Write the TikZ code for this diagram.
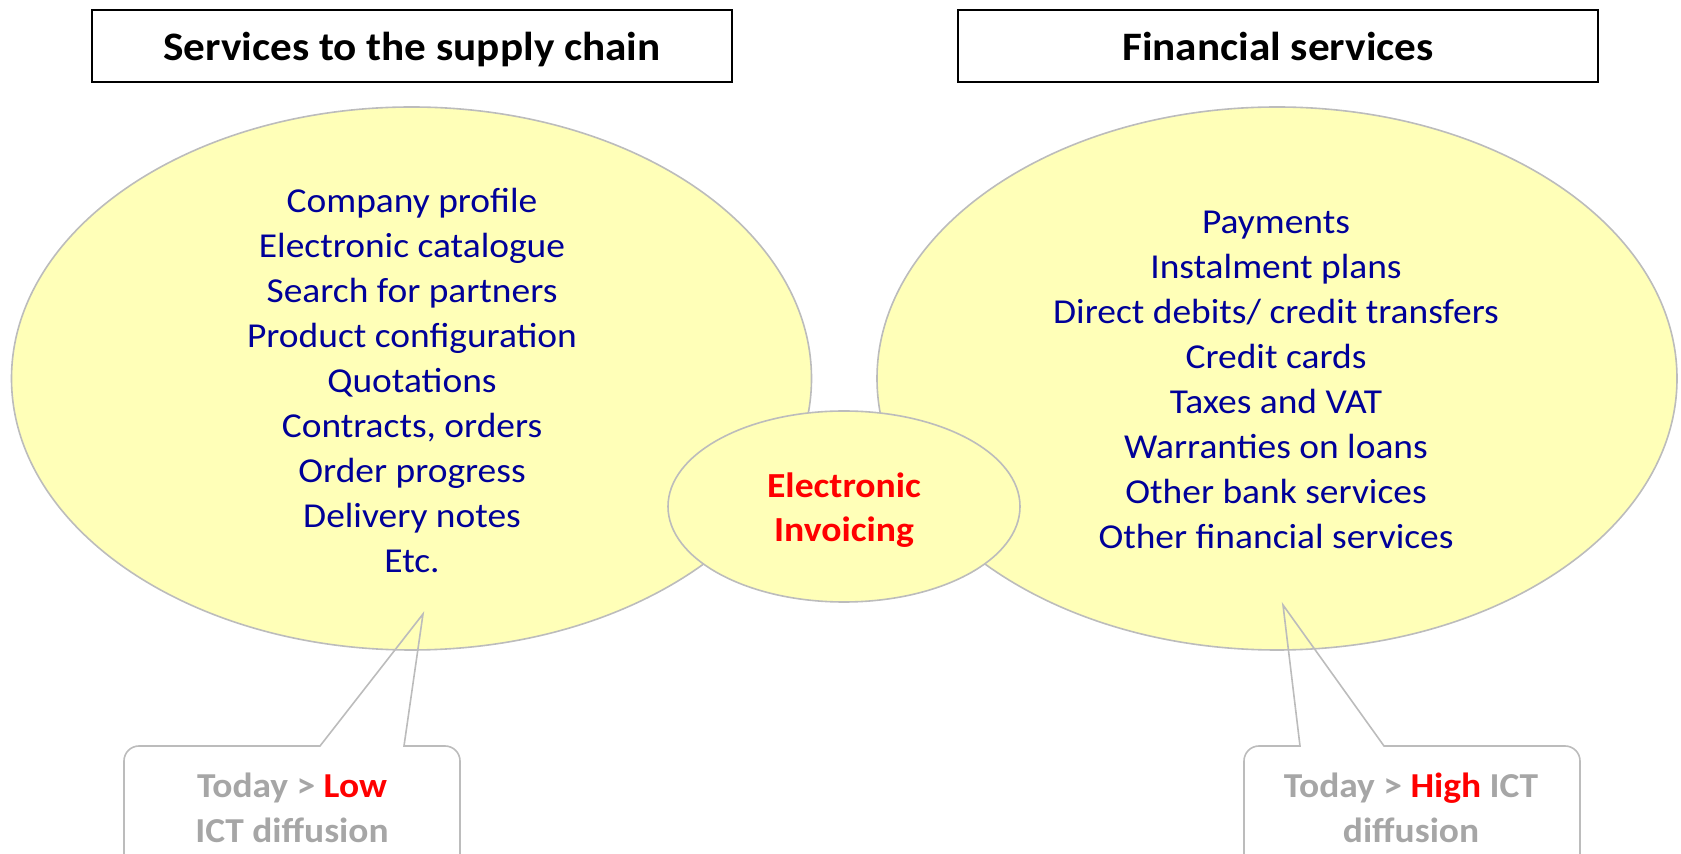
\documentclass[tikz,border=0pt]{standalone}
\usepackage{fontspec}
\setmainfont{Carlito}
\newfontfamily\bodyfont[FakeStretch=1.07]{Carlito}
\usetikzlibrary{shapes.geometric}
\definecolor{navy}{RGB}{0,0,153}
\definecolor{ellfill}{RGB}{255,255,184}
\definecolor{ellline}{RGB}{188,188,188}
\definecolor{graytxt}{RGB}{166,166,166}
\definecolor{redtxt}{RGB}{255,0,0}
\begin{document}
\begin{tikzpicture}[x=0.5pt,y=-0.5pt,
  titlebox/.style={draw=black, line width=1pt, minimum width=320pt, minimum height=36pt, inner sep=0pt, text height=18pt, text depth=3pt, font=\bodyfont\fontsize{20.2}{25}\selectfont\bfseries},
  bigell/.style={ellipse, draw=ellline, line width=0.8pt, fill=ellfill, minimum width=400pt, minimum height=271.5pt, inner sep=0pt},
  midell/.style={ellipse, draw=ellline, line width=0.8pt, fill=ellfill, minimum width=176pt, minimum height=95.5pt, inner sep=0pt},
  listtext/.style={align=center, text=navy, font=\bodyfont\fontsize{17.5}{22.5}\selectfont, inner sep=0pt},
  redlabel/.style={align=center, text=redtxt, font=\bodyfont\fontsize{17.6}{22}\selectfont\bfseries, inner sep=0pt},
  callout/.style={draw=ellline, line width=0.8pt},
  calltext/.style={align=center, text=graytxt, font=\bodyfont\fontsize{17.5}{22.5}\selectfont\bfseries, inner sep=0pt}]
\useasboundingbox (0,0) rectangle (1681,854);

% titles
\node[titlebox] (t1) at (412,46) {Services to the supply chain};
\node[titlebox] (t2) at (1278,46) {Financial services};

% ellipses
\node[bigell] (L) at (411.5,378.5) {};
\node[bigell] (R) at (1277,378.5) {};
\node[midell] (M) at (844,506.5) {};

% texts
\node[listtext] (Ltext) at (412,380) {Company profile\\Electronic catalogue\\Search for partners\\Product configuration\\Quotations\\Contracts, orders\\Order progress\\Delivery notes\\Etc.};
\node[listtext] (Rtext) at (1276,380) {Payments\\Instalment plans\\Direct debits/ credit transfers\\Credit cards\\Taxes and VAT\\Warranties on loans\\Other bank services\\Other financial services};
\node[redlabel] (Mtext) at (844,510) {Electronic\\Invoicing};

% callouts
\draw[callout] (320,746) -- (423,614) -- (404,746) -- (445,746)
  arc[start angle=-90,end angle=0,radius=15] -- (460,900) -- (124,900) -- (124,761)
  arc[start angle=180,end angle=270,radius=15] -- cycle;
\draw[callout] (1300,746) -- (1283,605) -- (1384,746) -- (1565,746)
  arc[start angle=-90,end angle=0,radius=15] -- (1580,900) -- (1244,900) -- (1244,761)
  arc[start angle=180,end angle=270,radius=15] -- cycle;

\node[calltext] (c1) at (292,808) {Today > \textcolor{redtxt}{Low}\\ICT diffusion};
\node[calltext] (c2) at (1411,808) {Today > \textcolor{redtxt}{High} ICT\\diffusion};
\end{tikzpicture}
\end{document}
